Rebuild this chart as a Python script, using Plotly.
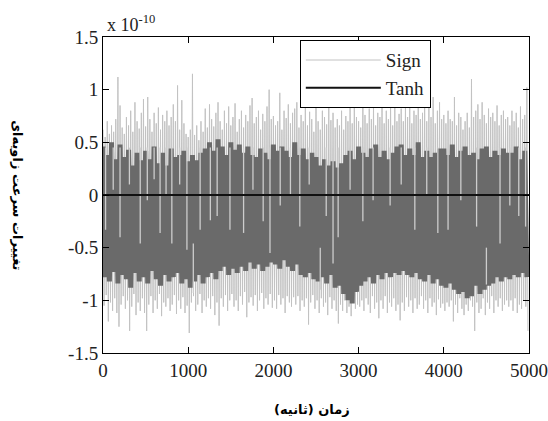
import plotly.graph_objects as go

# ---- data (values in units of 1e-10) ----
hi_peaks = [
    0.62, 0.55, 0.70, 0.58, 0.66, 0.60, 0.72, 1.12, 0.85, 0.64,
    0.58, 0.74, 0.66, 0.80, 0.60, 0.88, 0.70, 0.63, 0.78, 0.91,
    0.65, 0.93, 0.72, 0.60, 0.78, 0.68, 0.83, 0.62, 0.76, 0.70,
    0.80, 0.66, 0.74, 0.86, 0.70, 1.04, 0.62, 0.90, 0.68, 0.58,
    0.55, 0.62, 1.15, 0.57, 0.66, 0.52, 0.70, 0.60, 0.82, 0.64,
    0.86, 0.72, 0.65, 0.78, 0.88, 0.70, 0.62, 0.80, 0.68, 0.84,
    0.66, 0.74, 0.87, 0.60, 0.72, 0.80, 0.64, 0.76, 0.70, 0.85,
    0.92, 0.68, 0.74, 0.80, 0.62, 0.77, 0.70, 0.84, 1.00, 0.72,
    0.75, 0.66, 0.70, 0.97, 0.62, 0.80, 0.73, 0.86, 0.68, 0.78,
    0.82, 0.88, 0.64, 0.76, 0.70, 0.85, 0.66, 0.79, 0.72, 0.60,
    0.84, 0.70, 0.62, 0.80, 0.74, 0.67, 0.86, 0.71, 0.78, 0.64,
    0.72, 0.66, 0.80, 0.62, 0.75, 0.70, 0.83, 0.68, 0.92, 0.74,
    0.70, 0.64, 0.95, 0.76, 0.68, 0.82, 0.72, 0.86, 0.66, 0.78,
    0.74, 0.88, 0.68, 0.80, 0.72, 0.90, 0.66, 0.84, 0.70, 0.77,
    0.82, 0.70, 0.88, 0.74, 0.92, 0.68, 0.80, 0.76, 0.86, 0.72,
    0.78, 0.90, 0.70, 0.84, 0.74, 0.93, 0.68, 0.80, 0.88, 0.72,
    0.76, 0.68, 0.80, 0.72, 0.70, 0.93, 0.66, 0.78, 0.74, 0.62,
    0.70, 0.78, 0.64, 1.10, 0.74, 0.80, 0.86, 0.72, 0.88, 0.76,
    0.68, 0.82, 0.74, 0.78, 0.70, 0.85, 0.66, 0.76, 0.80, 0.72,
    0.74, 0.66, 0.80, 0.70, 0.78, 0.64, 0.84, 0.72, 0.76, 1.02,
]
lo_peaks = [
    -1.05, -0.95, -1.20, -1.02, -1.10, -0.98, -1.12, -1.25, -1.04, -0.96,
    -1.08, -1.00, -1.29, -1.06, -0.94, -1.14, -1.02, -1.10, -0.98, -1.12,
    -1.29, -1.04, -0.96, -1.12, -1.00, -1.08, -0.94, -1.15, -1.02, -1.06,
    -0.98, -1.10, -1.04, -0.95, -1.13, -1.00, -1.08, -0.97, -1.12, -1.05,
    -1.31, -1.02, -0.96, -1.10, -1.04, -0.94, -1.12, -1.00, -1.06, -0.98,
    -1.08, -0.96, -1.14, -1.02, -1.24, -0.98, -1.06, -0.95, -1.10, -1.00,
    -0.94, -1.06, -1.00, -1.10, -0.96, -1.04, -0.92, -1.16, -1.02, -0.97,
    -1.05, -0.95, -1.10, -1.00, -0.93, -1.08, -0.98, -1.04, -0.94, -1.07,
    -1.00, -1.08, -0.95, -1.04, -0.98, -1.12, -0.96, -1.02, -1.06, -0.97,
    -1.04, -0.96, -1.10, -1.00, -1.06, -0.98, -1.23, -1.02, -0.95, -1.08,
    -1.00, -1.12, -0.98, -1.06, -1.02, -1.14, -0.97, -1.08, -1.00, -1.10,
    -1.22, -1.04, -1.10, -1.00, -1.12, -1.06, -1.15, -1.02, -1.08, -1.04,
    -1.06, -1.00, -1.10, -0.98, -1.04, -1.12, -0.96, -1.08, -1.02, -1.17,
    -1.00, -1.08, -0.96, -1.12, -1.02, -1.06, -0.98, -1.10, -1.04, -1.19,
    -1.02, -1.10, -0.97, -1.06, -1.00, -1.12, -0.98, -1.08, -1.04, -0.96,
    -1.08, -1.00, -1.12, -0.98, -1.06, -1.02, -1.14, -0.99, -1.07, -1.03,
    -1.10, -1.02, -1.06, -1.00, -1.20, -1.04, -1.12, -0.98, -1.08, -1.14,
    -1.04, -1.10, -1.00, -1.06, -1.29, -1.02, -1.12, -1.08, -0.98, -1.14,
    -1.02, -1.08, -0.96, -1.12, -1.00, -1.06, -0.98, -1.10, -1.04, -1.00,
    -1.06, -1.00, -1.10, -0.98, -1.12, -1.04, -1.08, -1.00, -1.06, -1.29,
]
# dense (overlapping) part of the Sign signal
core_hi = [
    0.46, 0.38, 0.50, 0.34, 0.48, 0.36, 0.43, 0.28, 0.40, 0.33,
    0.42, 0.34, 0.46, 0.30, 0.40, 0.28, 0.44, 0.36, 0.38, 0.42,
    0.32, 0.38, 0.33, 0.40, 0.44, 0.50, 0.42, 0.53, 0.46, 0.38,
    0.50, 0.43, 0.48, 0.40, 0.46, 0.38, 0.36, 0.44, 0.40, 0.34,
    0.48, 0.42, 0.46, 0.42, 0.36, 0.50, 0.38, 0.44, 0.34, 0.40,
    0.36, 0.28, 0.34, 0.28, 0.32, 0.26, 0.30, 0.38, 0.42, 0.34,
    0.46, 0.40, 0.36, 0.44, 0.48, 0.36, 0.42, 0.34, 0.40, 0.46,
    0.48, 0.38, 0.44, 0.38, 0.50, 0.36, 0.42, 0.36, 0.40, 0.44,
    0.44, 0.38, 0.48, 0.36, 0.42, 0.46, 0.38, 0.40, 0.34, 0.44,
    0.46, 0.36, 0.42, 0.38, 0.44, 0.40, 0.40, 0.46, 0.34, 0.42,
]
core_lo = [
    -0.78, -0.82, -0.73, -0.84, -0.76, -0.80, -0.88, -0.74, -0.82, -0.78,
    -0.84, -0.72, -0.80, -0.86, -0.76, -0.82, -0.78, -0.74, -0.84, -0.80,
    -0.88, -0.82, -0.76, -0.84, -0.78, -0.74, -0.80, -0.72, -0.68, -0.76,
    -0.70, -0.74, -0.68, -0.72, -0.64, -0.70, -0.66, -0.72, -0.68, -0.64,
    -0.66, -0.70, -0.62, -0.68, -0.72, -0.66, -0.76, -0.78, -0.74, -0.80,
    -0.82, -0.78, -0.84, -0.76, -0.88, -0.86, -0.94, -1.00, -1.03, -0.92,
    -0.86, -0.82, -0.78, -0.84, -0.76, -0.80, -0.74, -0.78, -0.74, -0.76,
    -0.72, -0.76, -0.78, -0.74, -0.80, -0.82, -0.76, -0.84, -0.80, -0.86,
    -0.88, -0.84, -0.90, -0.94, -0.92, -0.98, -0.96, -0.86, -0.94, -0.90,
    -0.86, -0.84, -0.78, -0.82, -0.78, -0.80, -0.76, -0.78, -0.74, -0.78,
]
# sparse excursions of the Sign signal that show through the dense band
streak_time = [30, 120, 200, 310, 437, 520, 600, 670, 740, 808,
               900, 985, 1060, 1140, 1260, 1340, 1490, 1650, 1760, 1880,
               1960, 2080, 2200, 2310, 2420, 2550, 2620, 2700, 2760, 2900,
               3050, 3170, 3370, 3500, 3660, 3800, 3930, 4050, 4200, 4385,
               4500, 4660, 4775, 4880, 4960]
streak_top = [0.45, 0.45, 0.45, 0.45, 0.45, 0.45, 0.45, 0.45, 0.45, 0.45,
              0.45, 0.45, -0.46, 0.45, 0.45, 0.45, 0.45, 0.45, 0.45, 0.45,
              0.45, 0.45, 0.45, 0.45, 0.45, -0.50, 0.45, 0.45, 0.45, 0.45,
              0.45, 0.45, 0.45, 0.45, 0.45, 0.45, 0.45, 0.45, 0.45, 0.45,
              -0.50, 0.45, 0.45, 0.45, 0.45]
streak_bottom = [-0.33, 0.05, -0.40, 0.10, -0.46, -0.05, 0.15, -0.36, 0.00, -0.46,
                 0.10, -0.52, -0.93, -0.33, -0.24, -0.20, -0.33, -0.36, 0.05, -0.25,
                 -0.55, -0.10, 0.00, -0.30, 0.10, -0.90, -0.20, -0.65, -0.40, 0.05,
                 -0.25, -0.05, -0.10, 0.10, -0.33, 0.00, -0.36, -0.33, -0.05, -0.30,
                 -0.85, -0.46, -0.10, -0.20, -0.30]
tanh_time = [0, 5000]
tanh_values = [0, 0]
y_ticks = [1.5, 1, 0.5, 0, -0.5, -1, -1.5]
y_tick_labels = ["1.5", "1", "0.5", "0", "-0.5", "-1", "-1.5"]
x_ticks = [0, 1000, 2000, 3000, 4000, 5000]

# interleave peaks into a single signal
sign_time, sign_values = [], []
for i, (h, l) in enumerate(zip(hi_peaks, lo_peaks)):
    sign_time += [i * 25, i * 25 + 12.5]
    sign_values += [h, l]
core_time, core_values = [], []
for i, (h, l) in enumerate(zip(core_hi, core_lo)):
    core_time += [i * 50, i * 50 + 25]
    core_values += [h, l]
st_x, st_y = [], []
for t, a, b in zip(streak_time, streak_top, streak_bottom):
    st_x += [t, t, None]
    st_y += [a, b, None]

serif = "Liberation Serif, Times New Roman, serif"
fig = go.Figure()
fig.add_trace(go.Scatter(x=sign_time, y=sign_values, mode="lines", name="Sign",
                         line=dict(color="#c2c2c2", width=1)))
fig.add_trace(go.Scatter(x=core_time, y=core_values, mode="lines", showlegend=False,
                         line=dict(width=5, color="#6a6a6a"), hoverinfo="skip"))
fig.add_trace(go.Scatter(x=st_x, y=st_y, mode="lines", showlegend=False,
                         line=dict(width=1.3, color="#cdcdcd"), hoverinfo="skip"))
fig.add_trace(go.Scatter(x=tanh_time, y=tanh_values, mode="lines", name="Tanh",
                         line=dict(color="#111111", width=2)))

axis_common = dict(showline=True, linecolor="black", linewidth=1, mirror="ticks",
                   ticks="inside", ticklen=6, tickcolor="black", showgrid=False,
                   zeroline=False, automargin=False,
                   tickfont=dict(family=serif, size=19, color="#222"))
fig.update_xaxes(range=[0, 5000], tickvals=x_ticks, **axis_common)
fig.update_yaxes(range=[-1.5, 1.5], tickvals=y_ticks, ticktext=y_tick_labels, **axis_common)

fig.update_layout(
    width=548, height=421,
    margin=dict(l=103, r=19, t=37, b=68),
    paper_bgcolor="white", plot_bgcolor="white",
    font=dict(family=serif, size=18, color="#222"),
    showlegend=True,
    legend=dict(x=0.462, y=0.99, xanchor="left", yanchor="top",
                traceorder="normal", itemwidth=75,
                bgcolor="white", bordercolor="black", borderwidth=1,
                font=dict(family=serif, size=19, color="#222"),
                tracegroupgap=0),
    annotations=[
        dict(text="x 10<sup>-10</sup>", xref="paper", yref="paper", x=0.005, y=1.0,
             xanchor="left", yanchor="bottom", showarrow=False,
             font=dict(family=serif, size=18, color="#222")),
        dict(text="<b>زمان (ثانیه)</b>", xref="paper", yref="paper", x=0.49, y=-0.178,
             xanchor="center", yanchor="middle", showarrow=False,
             font=dict(family="DejaVu Sans", size=13, color="black")),
        dict(text="<b>تغییرات سرعت زاویه‌ای</b>", xref="paper", yref="paper", x=-0.2, y=0.5,
             xanchor="center", yanchor="middle", showarrow=False, textangle=90,
             font=dict(family="DejaVu Sans", size=13, color="black")),
    ],
)

fig.write_html("out.html")
